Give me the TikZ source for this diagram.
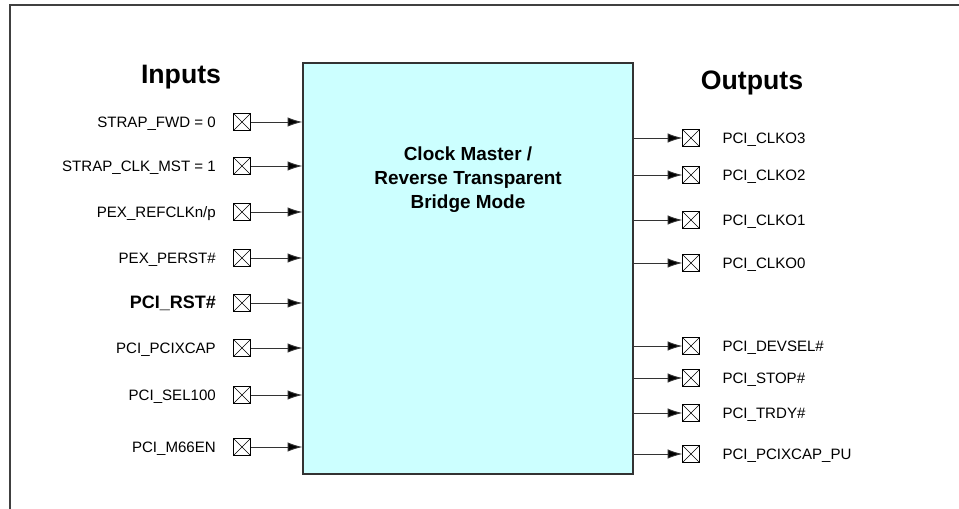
\documentclass[tikz,border=0pt]{standalone}
\usepackage{fontspec}
\setmainfont{Liberation Sans}
\usetikzlibrary{positioning,arrows.meta}
\definecolor{bridgefill}{HTML}{CCFFFF}

\begin{document}
\begin{tikzpicture}[x=0.75pt, y=-0.75pt,
			pin/.style  = {draw, thin, minimum size=12.5pt, inner sep=0pt,
				path picture={\draw[thin] (path picture bounding box.north west) -- (path picture bounding box.south east)
					(path picture bounding box.north east) -- (path picture bounding box.south west);}},
			sig/.style  = {inner sep=0pt, text height=8pt, text depth=0pt, font=\fontsize{11.3}{13}\selectfont},
			head/.style = {inner sep=0pt, font=\fontsize{20}{24}\selectfont\bfseries},
			bridge/.style = {draw=black!80, line width=1pt, fill=bridgefill, minimum width=247.5pt, minimum height=308pt},
			mode/.style = {align=center, font=\fontsize{14.2}{18}\selectfont\bfseries},
			wire/.style = {-{Latex[length=11pt,width=7pt,fill=black]}, line width=0.7pt, draw=black!80}]
			
			\useasboundingbox (0,0) rectangle (959,509);
			
			% open frame
			\draw[line width=1pt, black!75] (959,5) -- (10,5) -- (10,509);
			
			\node[bridge] (bridge) at (468,268.5) {};
			\node[mode] (modetxt) at (468,180) {Clock Master /\\Reverse Transparent\\Bridge Mode};
			
			\node[head] (inhead) at (181,77) {Inputs};
			\node[head] (outhead) at (752,83) {Outputs};
			
			% inputs
			\foreach \y/\txt [count=\i] in {122/{STRAP\_FWD = 0}, 166/{STRAP\_CLK\_MST = 1},
				212/{PEX\_REFCLKn/p}, 258/{PEX\_PERST\#}, 303/{\fontsize{13.5}{15}\selectfont\bfseries PCI\_RST\#},
				348/{PCI\_PCIXCAP}, 395/{PCI\_SEL100}, 447/{PCI\_M66EN}}
			{
				\node[pin] (in\i) at (242,\y) {};
				\node[sig, left=13pt of in\i] (inl\i) {\txt};
				\draw[wire] (in\i.east) -- (in\i.east -| bridge.west);
			}
			
			% outputs
			\foreach \y/\txt [count=\i] in {138/{PCI\_CLKO3}, 175/{PCI\_CLKO2}, 220/{PCI\_CLKO1},
				263/{PCI\_CLKO0}, 346/{PCI\_DEVSEL\#}, 378/{PCI\_STOP\#}, 413/{PCI\_TRDY\#},
				454/{PCI\_PCIXCAP\_PU}}
			{
				\node[pin] (out\i) at (691,\y) {};
				\node[sig, right=17pt of out\i] (outl\i) {\txt};
				\draw[wire] (out\i.west -| bridge.east) -- (out\i.west);
			}
		\end{tikzpicture}
\end{document}
